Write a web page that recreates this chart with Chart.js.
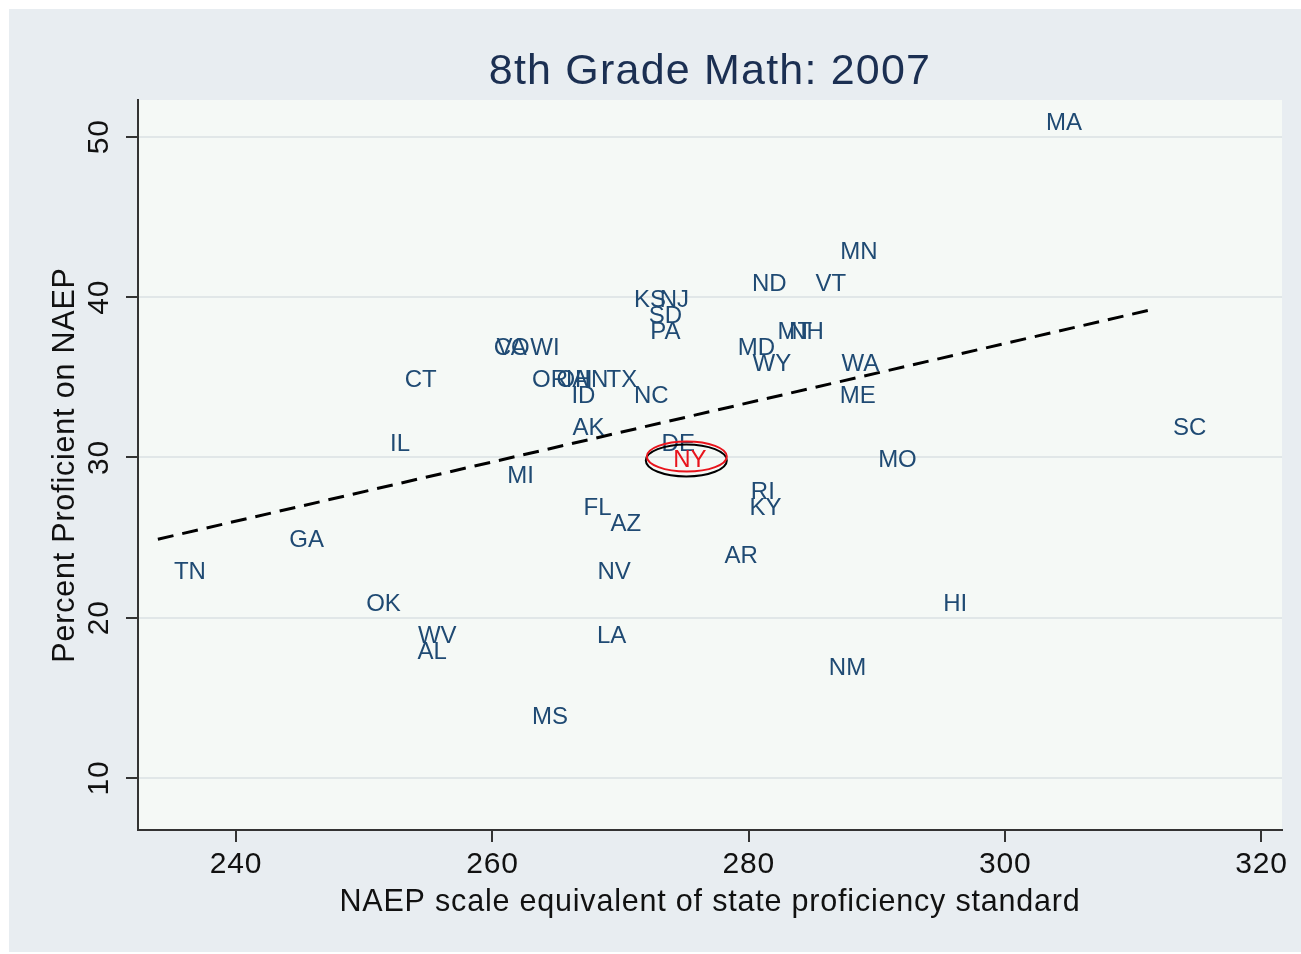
<!DOCTYPE html>
<html>
<head>
<meta charset="utf-8">
<script src="https://cdn.jsdelivr.net/npm/chart.js@4.4.1/dist/chart.umd.min.js"></script>
<style>
  html, body { margin: 0; padding: 0; background: #fff; }
  #wrap { position: absolute; left: 9px; top: 9px; width: 1292px; height: 943px; background: #e8edf1; }
  canvas { display: block; }
</style>
</head>
<body>
<div id="wrap"><canvas id="chart" width="1292" height="943"></canvas></div>
<script>
// state labels, NAEP scale equivalent (x) and percent proficient (y)
const states = ['MA', 'MN', 'ND', 'VT', 'KS', 'NJ', 'SD', 'PA', 'MT', 'NH', 'MD', 'WY', 'WA', 'ME',
  'CO', 'VA', 'WI', 'CT', 'OR', 'OH', 'IA', 'IN', 'TX', 'ID', 'NC', 'AK', 'IL', 'DE', 'NY', 'MO',
  'SC', 'MI', 'RI', 'KY', 'FL', 'AZ', 'GA', 'TN', 'NV', 'AR', 'OK', 'HI', 'WV', 'AL', 'LA', 'NM', 'MS'];
const naepScale = [304.6, 288.6, 281.6, 286.4, 272.3, 274.2, 273.5, 273.5, 283.6, 284.5, 280.6, 281.8, 288.7, 288.5,
  261.5, 261.5, 264.1, 254.4, 264.5, 266.4, 266.6, 268.1, 270.1, 267.1, 272.4, 267.5, 252.8, 274.5, 275.4, 291.6,
  314.4, 262.2, 281.1, 281.3, 268.2, 270.4, 245.5, 236.4, 269.5, 279.4, 251.5, 296.1, 255.7, 255.3, 269.3, 287.7, 264.5];
const pctProficient = [51, 43, 41, 41, 40, 40, 39, 38, 38, 38, 37, 36, 36, 34,
  37, 37, 37, 35, 35, 35, 35, 35, 35, 34, 34, 32, 31, 31, 30, 30,
  32, 29, 28, 27, 27, 26, 25, 23, 23, 24, 21, 21, 19, 18, 19, 17, 14];

// fitted line end points
const fitX = [233.9, 311.3];
const fitY = [24.9, 39.2];

const xTicks = [240, 260, 280, 300, 320];
const yTicks = [10, 20, 30, 40, 50];

const highlight = 'NY';
const plotBg = '#f5f9f6';
const labelColor = '#1f4a73';
const font = '"Liberation Sans", Arial, sans-serif';

const stataLook = {
  id: 'stataLook',
  beforeDraw(chart) {
    const {ctx, chartArea: a} = chart;
    ctx.save();
    ctx.fillStyle = plotBg;
    ctx.fillRect(a.left, a.top, a.right - a.left, a.bottom - a.top);
    ctx.restore();
    ctx.letterSpacing = '0.8px';
  },
  afterDatasetsDraw(chart) {
    const ctx = chart.ctx;
    const points = chart.getDatasetMeta(1).data;
    ctx.save();
    ctx.letterSpacing = '0px';
    ctx.font = '24px ' + font;
    ctx.textAlign = 'center';
    ctx.textBaseline = 'middle';
    points.forEach((p, i) => {
      ctx.fillStyle = states[i] === highlight ? '#e8141c' : labelColor;
      ctx.fillText(states[i], p.x, p.y + 3);
    });

    // circle round NY
    const ny = points[states.indexOf(highlight)];
    ctx.lineWidth = 2;
    ctx.strokeStyle = '#000';
    ctx.beginPath();
    ctx.ellipse(ny.x - 3.5, ny.y + 3, 40.5, 16, 0, 0, Math.PI * 2);
    ctx.stroke();
    ctx.strokeStyle = '#e8141c';
    ctx.beginPath();
    ctx.ellipse(ny.x - 3, ny.y - 1, 40, 15, 0, 0, Math.PI * 2);
    ctx.stroke();
    ctx.restore();
  },
  afterDraw(chart) {
    const {ctx, chartArea: a} = chart;
    const y = chart.scales.y;
    ctx.save();
    ctx.fillStyle = '#111';
    ctx.font = '30px ' + font;
    ctx.letterSpacing = '0.8px';
    ctx.textAlign = 'center';
    ctx.textBaseline = 'middle';
    y.ticks.forEach(t => {
      ctx.save();
      ctx.translate(91, y.getPixelForValue(t.value));
      ctx.rotate(-Math.PI / 2);
      ctx.fillText(String(t.value), 0, 0);
      ctx.restore();
    });

    ctx.fillStyle = '#1b2f52';
    ctx.font = '43px ' + font;
    ctx.letterSpacing = '1.2px';
    ctx.fillText('8th Grade Math: 2007', (a.left + a.right) / 2, 63);
    ctx.restore();
  }
};

new Chart(document.getElementById('chart'), {
  type: 'scatter',
  data: {
    datasets: [
      {
        type: 'line',
        data: fitX.map((x, i) => ({x, y: fitY[i]})),
        borderColor: '#000',
        borderWidth: 3,
        borderDash: [16, 9],
        pointRadius: 0,
        fill: false
      },
      {
        data: states.map((s, i) => ({x: naepScale[i], y: pctProficient[i]})),
        pointRadius: 0
      }
    ]
  },
  options: {
    responsive: false,
    animation: false,
    layout: {padding: {top: 91, right: 19, left: 0, bottom: 0}},
    plugins: {
      legend: {display: false},
      tooltip: {enabled: false}
    },
    scales: {
      x: {
        type: 'linear',
        min: 232.35,
        max: 321.6,
        afterFit: s => { s.height = 122; },
        afterBuildTicks: s => { s.ticks = xTicks.map(v => ({value: v})); },
        ticks: {
          color: '#111',
          padding: 5,
          font: {family: font, size: 30}
        },
        grid: {drawOnChartArea: false, tickLength: 12, tickColor: '#333', lineWidth: 2},
        border: {color: '#333', width: 2},
        title: {
          display: true,
          text: 'NAEP scale equivalent of state proficiency standard',
          color: '#111',
          font: {family: font, size: 30.5},
          padding: {top: 0, bottom: 31}
        }
      },
      y: {
        type: 'linear',
        min: 6.76,
        max: 52.3,
        afterFit: s => { s.width = 129; },
        afterBuildTicks: s => { s.ticks = yTicks.map(v => ({value: v})); },
        ticks: {
          color: 'rgba(0,0,0,0)',
          font: {family: font, size: 30}
        },
        grid: {color: '#e1e7e8', lineWidth: 2, tickLength: 12, tickColor: '#333'},
        border: {color: '#333', width: 2},
        title: {
          display: true,
          text: 'Percent Proficient on NAEP',
          color: '#111',
          font: {family: font, size: 30.5},
          padding: {top: 38, bottom: 0}
        }
      }
    }
  },
  plugins: [stataLook]
});
</script>
</body>
</html>
